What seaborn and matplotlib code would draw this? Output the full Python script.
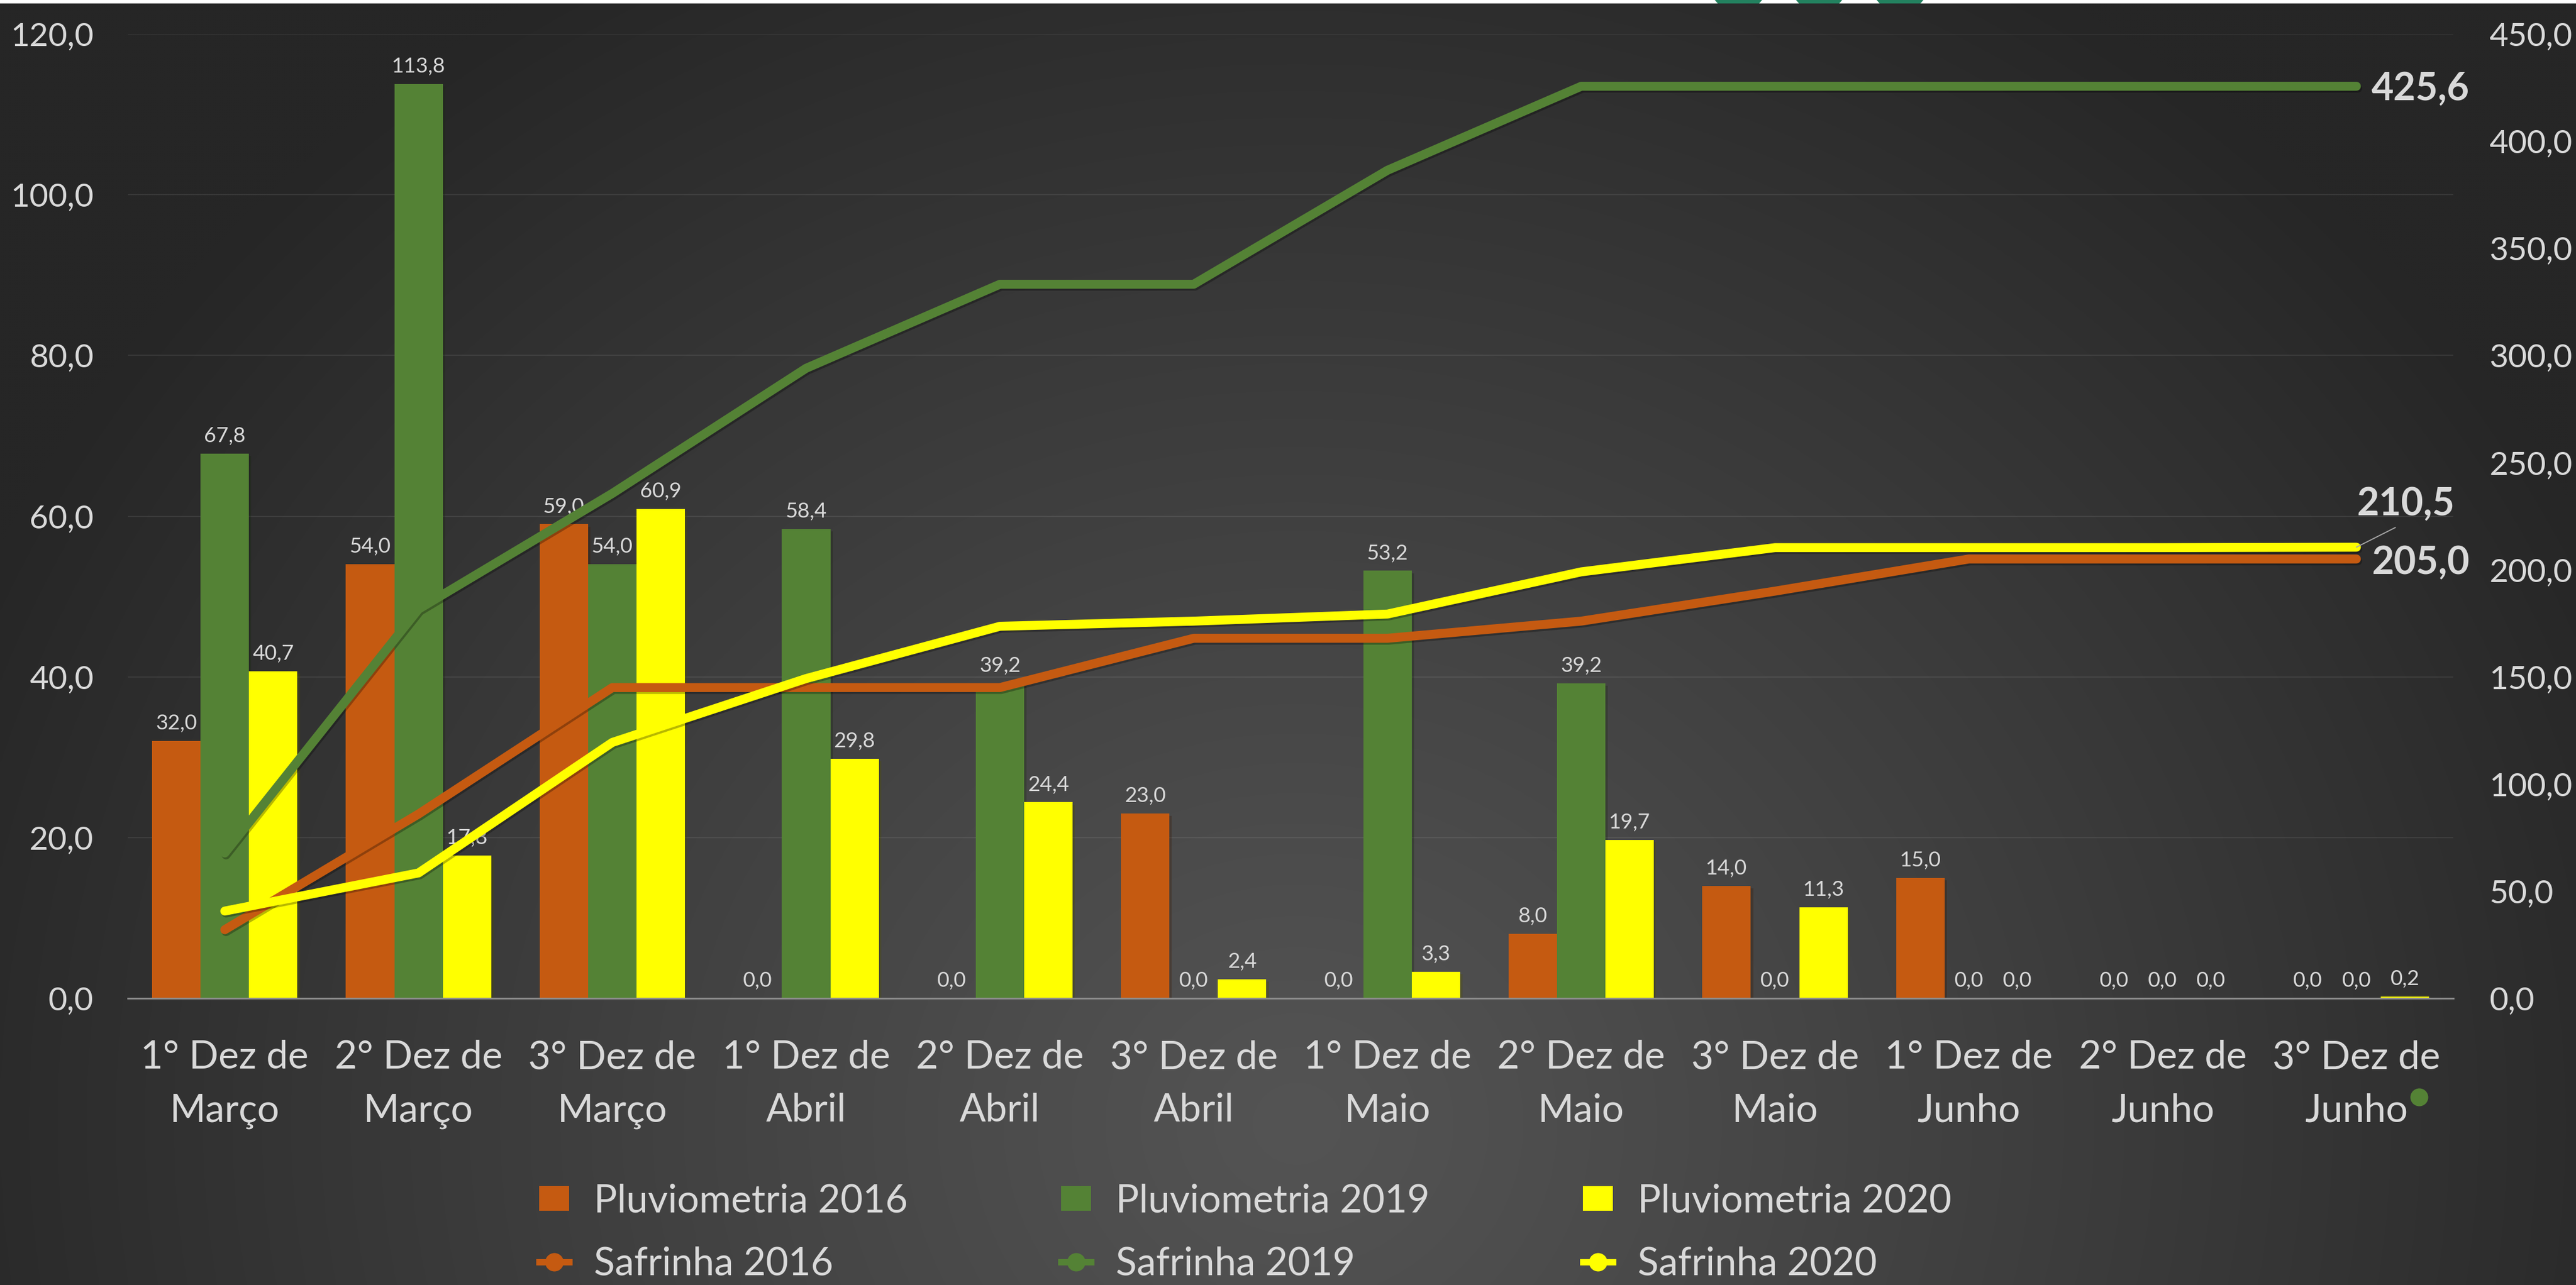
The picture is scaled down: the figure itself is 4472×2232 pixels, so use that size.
import numpy as np
import pandas as pd
import matplotlib
matplotlib.use("Agg")
import matplotlib.pyplot as plt
import seaborn as sns
from matplotlib.patches import Patch, Polygon, Circle, Rectangle
from matplotlib.lines import Line2D
from matplotlib.ticker import FuncFormatter, MultipleLocator
import matplotlib.patheffects as pe

# ---------------- data ----------------
categorias = ["1° Dez de Março", "2° Dez de Março", "3° Dez de Março",
              "1° Dez de Abril", "2° Dez de Abril", "3° Dez de Abril",
              "1° Dez de Maio", "2° Dez de Maio", "3° Dez de Maio",
              "1° Dez de Junho", "2° Dez de Junho", "3° Dez de Junho"]
pluv_2016 = [32.0, 54.0, 59.0, 0.0, 0.0, 23.0, 0.0, 8.0, 14.0, 15.0, 0.0, 0.0]
pluv_2019 = [67.8, 113.8, 54.0, 58.4, 39.2, 0.0, 53.2, 39.2, 0.0, 0.0, 0.0, 0.0]
pluv_2020 = [40.7, 17.8, 60.9, 29.8, 24.4, 2.4, 3.3, 19.7, 11.3, 0.0, 0.0, 0.2]
safr_2016 = [32.0, 86.0, 145.0, 145.0, 145.0, 168.0, 168.0, 176.0, 190.0, 205.0, 205.0, 205.0]
safr_2019 = [67.8, 181.6, 235.6, 294.0, 333.2, 333.2, 386.4, 425.6, 425.6, 425.6, 425.6, 425.6]
safr_2020 = [40.7, 58.5, 119.4, 149.2, 173.6, 176.0, 179.3, 199.0, 210.3, 210.3, 210.3, 210.5]

series_barras = ["Pluviometria 2016", "Pluviometria 2019", "Pluviometria 2020"]
series_linhas = ["Safrinha 2016", "Safrinha 2019", "Safrinha 2020"]
cores = ["#C55A11", "#548235", "#FFFF00"]

TXT = "#D9D9D9"

plt.rcParams['font.family'] = ['Lato', 'DejaVu Sans']

W, H = 4472, 2232
DPI = 200
fig = plt.figure(figsize=(W / DPI, H / DPI), dpi=DPI)


def fx(px):
    return px / W


def fy(py):
    return 1 - py / H


# ---------------- background ----------------
bg = fig.add_axes([0, 0, 1, 1], zorder=-10)
yy, xx = np.mgrid[0:H:4, 0:W:4]
d = np.sqrt(((xx - 2250) / 2500.0) ** 2 + ((yy - 1950) / 2300.0) ** 2)
t = np.clip(d, 0, 1)
val = 84 - (84 - 38) * t ** 1.1
img = np.dstack([val, val, val]) / 255.0
bg.imshow(img, extent=[0, W, H, 0], aspect='auto', interpolation='bilinear')
bg.set_xlim(0, W)
bg.set_ylim(H, 0)
bg.axis('off')

# top strip with logo fragments
bg.add_patch(Rectangle((0, 0), W, 6, color='white', lw=0))
for (a, b) in [(2977, 3059), (3118, 3198), (3258, 3339)]:
    bg.add_patch(Polygon([(a, 0), (b, 0), (b - 5, 6), (a + 5, 6)], closed=True,
                         color='#23815F', lw=0))
band = np.linspace(0, 1, 200)
band_rgb = np.array([[0x23 + (0x1B - 0x23) * s, 0x81 + (0x8C - 0x81) * s,
                      0x5F + (0x7B - 0x5F) * s] for s in band]) / 255.0
im_band = bg.imshow(band_rgb[None, :, :], extent=[3397, W, 6, 0], aspect='auto')
clip = Polygon([(3397, 0), (W, 0), (W, 6), (3407, 6)], closed=True,
               transform=bg.transData, facecolor='none', edgecolor='none')
bg.add_patch(clip)
im_band.set_clip_path(clip)
bg.add_patch(Circle((4200, 1906), 15.5, color='#548235', lw=0))
bg.set_xlim(0, W)
bg.set_ylim(H, 0)

# ---------------- main axes ----------------
ax = fig.add_axes([fx(222), fy(1734), fx(4259) - fx(222), fy(59) - fy(1734)])
ax.set_facecolor('none')

df = pd.DataFrame({
    "Período": categorias * 3,
    "Série": [series_barras[0]] * 12 + [series_barras[1]] * 12 + [series_barras[2]] * 12,
    "mm": pluv_2016 + pluv_2019 + pluv_2020,
})
sns.barplot(data=df, x="Período", y="mm", hue="Série", order=categorias,
            hue_order=series_barras, palette=cores, width=0.75, saturation=1,
            errorbar=None, legend=False, ax=ax, linewidth=0)

for cont, vals in zip(ax.containers, [pluv_2016, pluv_2019, pluv_2020]):
    for p in cont.patches:
        p.set_path_effects([pe.SimplePatchShadow(offset=(1.5, -1.5), alpha=0.3),
                            pe.Normal()])
    ax.bar_label(cont, labels=[f"{v:.1f}".replace('.', ',') for v in vals],
                 padding=5, color=TXT, fontsize=13.2)

ax.set_ylim(0, 120)
ax.yaxis.set_major_locator(MultipleLocator(20))
ax.yaxis.set_major_formatter(FuncFormatter(lambda v, _: f"{v:.1f}".replace('.', ',')))
ax.yaxis.grid(True, color='white', alpha=0.08, lw=0.75)
ax.set_axisbelow(True)
for s in ['top', 'right', 'left']:
    ax.spines[s].set_visible(False)
ax.spines['bottom'].set_color('#8C8C8C')
ax.spines['bottom'].set_linewidth(1.1)
ax.tick_params(axis='y', length=0, colors=TXT, labelsize=20.4, pad=21.5)
ax.tick_params(axis='x', length=0, colors=TXT, labelsize=24.2, pad=26)
ax.set_xlabel('')
ax.set_ylabel('')

# ---------------- lines ----------------
ax2 = ax.twinx()
ax2.set_facecolor('none')
xpos = np.arange(len(categorias))
for vals, cor in zip([safr_2016, safr_2019, safr_2020], cores):
    sns.lineplot(x=xpos, y=vals, ax=ax2, color=cor, linewidth=5.6, sort=False,
                 solid_capstyle='round', solid_joinstyle='round',
                 path_effects=[pe.SimpleLineShadow(offset=(0.8, -1.2), shadow_color='black', alpha=0.28),
                               pe.Normal()])
ax2.set_ylim(0, 450)
ax2.yaxis.set_major_locator(MultipleLocator(50))
ax2.yaxis.set_major_formatter(FuncFormatter(lambda v, _: f"{v:.1f}".replace('.', ',')))
ax2.grid(False)
for s in ['top', 'right', 'left', 'bottom']:
    ax2.spines[s].set_visible(False)
ax2.tick_params(axis='y', length=0, colors=TXT, labelsize=20.4, pad=22.5)
ax2.set_ylabel('')
ax2.set_xlabel('')

ax.set_xlim(-0.5, len(categorias) - 0.5)
ax.set_xticks(xpos)
ax.set_xticklabels([c.replace(' de ', ' de\n') for c in categorias], linespacing=1.6)

last = len(categorias) - 1
lab_kw = dict(color=TXT, fontsize=24, fontweight='bold', textcoords='offset points',
              ha='left', va='baseline')
ax2.annotate(f"{safr_2019[-1]:.1f}".replace('.', ','), xy=(last, safr_2019[-1]),
             xytext=(9.4, -9.0), **lab_kw)
ax2.annotate(f"{safr_2016[-1]:.1f}".replace('.', ','), xy=(last, safr_2016[-1]),
             xytext=(9.7, -9.4), **lab_kw)
ax2.annotate(f"{safr_2020[-1]:.1f}".replace('.', ','), xy=(last, safr_2020[-1]),
             xytext=(0.4, 20.0),
             arrowprops=dict(arrowstyle='-', color='#A6A6A6', lw=0.7, shrinkA=3,
                             shrinkB=0, relpos=(0.5, 0.0)),
             **lab_kw)

# ---------------- legend ----------------
handles = []
labels = []
for sb, sl, cor in zip(series_barras, series_linhas, cores):
    handles.append(Patch(facecolor=cor, edgecolor='none'))
    labels.append(sb)
    handles.append(Line2D([0], [0], color=cor, lw=4, marker='o', markersize=11.5,
                          markeredgewidth=0))
    labels.append(sl)
fig.legend(handles, labels, ncol=3, loc='center',
           bbox_to_anchor=(fx(2162), fy(2141)), frameon=False, fontsize=24.2,
           handlelength=0.78, handleheight=0.61, handletextpad=0.64,
           columnspacing=3.95, labelspacing=0.7, labelcolor=TXT, borderpad=0)

fig.savefig("out.png", dpi=DPI)
